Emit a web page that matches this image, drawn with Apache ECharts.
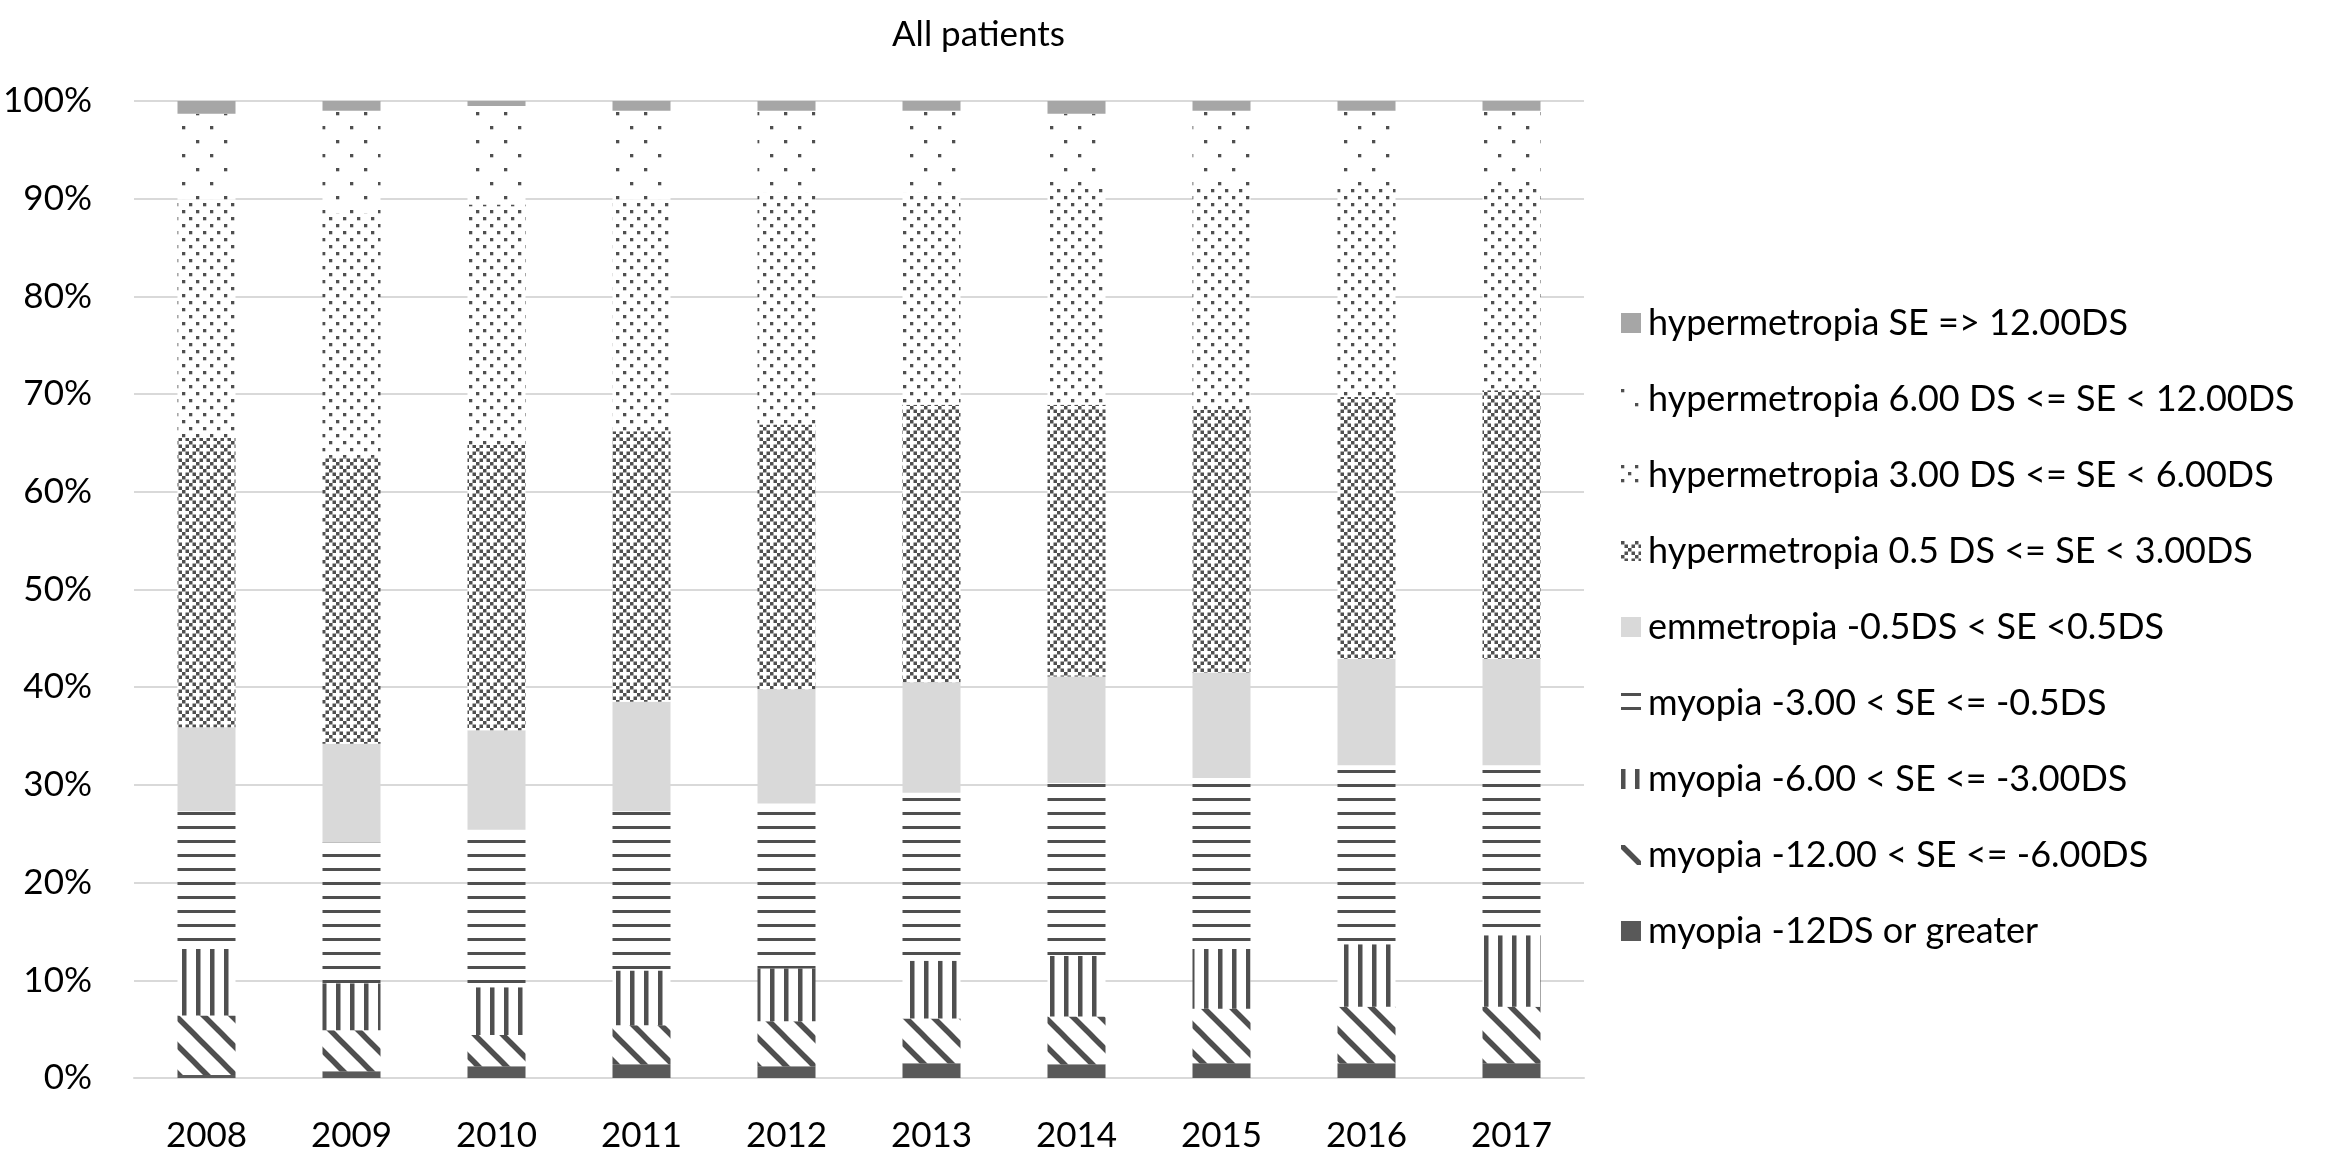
<!DOCTYPE html>
<html>
<head>
<meta charset="utf-8">
<script src="https://cdn.jsdelivr.net/npm/echarts@6/dist/echarts.min.js"></script>
<style>
  html, body { margin: 0; padding: 0; background: #ffffff; }
  #chart { width: 2341px; height: 1156px; }
</style>
</head>
<body>
<div id="chart"></div>
<script>
// ---- data (percent of patients per year) ----
const years = ['2008', '2009', '2010', '2011', '2012', '2013', '2014', '2015', '2016', '2017'];
const yTicks = [0, 10, 20, 30, 40, 50, 60, 70, 80, 90, 100];

const myopiaSevere   = [0.3, 0.7, 1.2, 1.4, 1.2, 1.5, 1.4, 1.5, 1.5, 1.5];
const myopiaHigh     = [6.1, 4.2, 3.2, 4.0, 4.6, 4.6, 4.9, 5.6, 5.8, 5.8];
const myopiaModerate = [6.8, 4.8, 4.9, 5.6, 5.4, 5.9, 6.2, 6.1, 6.4, 7.3];
const myopiaLow      = [14.1, 14.4, 16.1, 16.3, 16.9, 17.2, 17.7, 17.5, 18.3, 17.4];
const emmetropia     = [8.6, 10.1, 10.2, 11.2, 11.7, 11.3, 10.9, 10.8, 10.9, 10.9];
const hyperLow       = [29.6, 29.3, 29.2, 27.7, 27.1, 28.4, 27.8, 26.9, 26.8, 27.5];
const hyperModerate  = [24.4, 25.0, 24.6, 23.7, 23.7, 21.7, 22.1, 22.6, 21.3, 20.6];
const hyperHigh      = [8.8, 10.5, 10.1, 9.1, 8.4, 8.4, 7.7, 8.0, 8.0, 8.0];
const hyperExtreme   = [1.3, 1.0, 0.5, 1.0, 1.0, 1.0, 1.3, 1.0, 1.0, 1.0];

const seriesNames = [
  'myopia -12DS or greater',
  'myopia -12.00 < SE <= -6.00DS',
  'myopia -6.00 < SE <= -3.00DS',
  'myopia -3.00 < SE <= -0.5DS',
  'emmetropia -0.5DS < SE <0.5DS',
  'hypermetropia 0.5 DS <= SE < 3.00DS',
  'hypermetropia 3.00 DS <= SE < 6.00DS',
  'hypermetropia 6.00 DS <= SE < 12.00DS',
  'hypermetropia SE => 12.00DS'
];
const seriesValues = [myopiaSevere, myopiaHigh, myopiaModerate, myopiaLow, emmetropia,
                      hyperLow, hyperModerate, hyperHigh, hyperExtreme];

// ---- fill patterns (drawn on small canvases) ----
const INK = '#4f4f4f';
function makeTile(w, h, draw) {
  const c = document.createElement('canvas');
  c.width = w; c.height = h;
  const ctx = c.getContext('2d');
  ctx.fillStyle = '#ffffff';
  ctx.fillRect(0, 0, w, h);
  ctx.fillStyle = INK;
  ctx.strokeStyle = INK;
  draw(ctx);
  return { image: c, repeat: 'repeat' };
}
const U = 3.5; // one pattern pixel
const patDiagonal = makeTile(28, 28, ctx => {
  ctx.lineWidth = 5.5;
  [-28, 0, 28].forEach(x0 => {
    ctx.beginPath(); ctx.moveTo(x0 - 4, -4); ctx.lineTo(x0 + 32, 32); ctx.stroke();
  });
});
const patVertical = makeTile(14, 14, ctx => { ctx.fillRect(0, 0, 4.5, 14); });
const patHorizontal = makeTile(14, 14, ctx => { ctx.fillRect(0, 0, 14, 3); });
const patTrellis = makeTile(14, 14, ctx => {
  const on = [[0,0],[1,1],[2,2],[3,3],[1,3],[3,1]];
  on.forEach(p => ctx.fillRect(p[0] * U, p[1] * U, U, U));
});
const patDense = makeTile(14, 14, ctx => {
  ctx.fillRect(0, 0, 3.3, 3.3);
  ctx.fillRect(7, 7, 3.3, 3.3);
});
const patSparse = makeTile(28, 28, ctx => {
  ctx.fillRect(0, 0, 3.3, 3.3);
  ctx.fillRect(14, 14, 3.3, 3.3);
});

const fills = ['#595959', patDiagonal, patVertical, patHorizontal, '#d9d9d9',
               patTrellis, patDense, patSparse, '#a6a6a6'];

const FONT = 'Lato, "Open Sans", sans-serif';
const TEXT = '#000000';

const chart = echarts.init(document.getElementById('chart'), null, { renderer: 'canvas' });

const series = seriesNames.map((name, i) => ({
  name: name,
  type: 'bar',
  stack: 'total',
  barWidth: 58,
  data: seriesValues[i],
  itemStyle: { color: fills[i] },
  emphasis: { disabled: true }
}));

chart.setOption({
  backgroundColor: '#ffffff',
  animation: false,
  title: {
    text: 'All patients',
    left: 887,
    top: 12,
    textStyle: { fontFamily: FONT, fontWeight: 'normal', fontSize: 35, color: TEXT }
  },
  grid: { left: 134, right: 757, top: 101, bottom: 78, containLabel: false },
  legend: {
    orient: 'vertical',
    left: 1616,
    top: 298,
    itemWidth: 20,
    itemHeight: 20,
    itemGap: 36,
    icon: 'rect',
    data: seriesNames.slice().reverse(),
    selectedMode: false,
    textStyle: { fontFamily: FONT, fontSize: 36, color: TEXT, lineHeight: 40, padding: [0, 0, 0, 2] }
  },
  xAxis: {
    type: 'category',
    data: years,
    axisLine: { show: true, lineStyle: { color: '#d9d9d9', width: 2 } },
    axisTick: { show: false },
    axisLabel: { fontFamily: FONT, fontSize: 35, color: TEXT, margin: 40 }
  },
  yAxis: {
    type: 'value',
    min: yTicks[0],
    max: yTicks[yTicks.length - 1],
    interval: yTicks[1] - yTicks[0],
    axisLine: { show: false },
    axisTick: { show: false },
    splitLine: { lineStyle: { color: '#d9d9d9', width: 2 } },
    axisLabel: { fontFamily: FONT, fontSize: 35, color: TEXT, margin: 42, formatter: '{value}%' }
  },
  series: series
});
</script>
</body>
</html>
